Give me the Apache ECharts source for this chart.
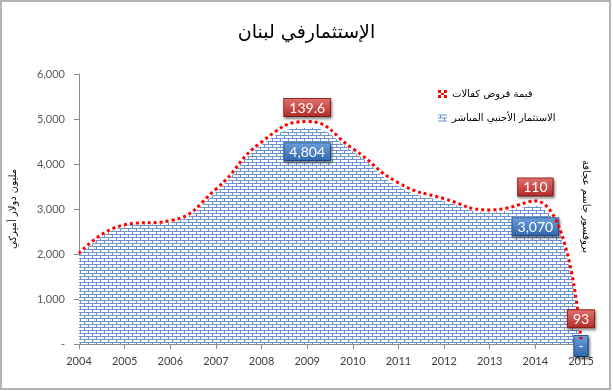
<!DOCTYPE html>
<html>
<head>
<meta charset="utf-8">
<script src="https://cdn.jsdelivr.net/npm/echarts@6/dist/echarts.min.js"></script>
<style>
html,body{margin:0;padding:0;background:#fff;}
#wrap{position:relative;width:613px;height:391px;}
#chart{position:absolute;left:0;top:0;width:613px;height:391px;}
#frame{position:absolute;left:0;top:0;width:611px;height:390px;box-sizing:border-box;border:2px solid #b4b4b4;pointer-events:none;}
</style>
</head>
<body>
<div id="wrap"><div id="chart"></div><div id="frame"></div></div>
<script>
const titleText = 'الإستثمارفي لبنان';
const yAxisName = 'مليون دولار أميركي';
const creditText = 'بروفسور جاسم عجاقة';
const seriesNames = ['الاستثمار الأجنبي المباشر', 'قيمة قروض كفالات'];
const years = ['2004','2005','2006','2007','2008','2009','2010','2011','2012','2013','2014','2015'];
const fdi = [1950, 2610, 2700, 3380, 4420, 4804, 4280, 3500, 3170, 2930, 3070, 0];
const loans = [60, 40, 40, 60, 70, 139.6, 60, 80, 60, 50, 110, 93];
const labeledIdx = [5, 10, 11];
const yTicks = [0, 1000, 2000, 3000, 4000, 5000, 6000];

function brick(){
  const c = document.createElement('canvas'); c.width = 8; c.height = 6;
  const g = c.getContext('2d');
  g.fillStyle = '#ffffff'; g.fillRect(0,0,8,6);
  g.fillStyle = '#6a93d0';
  g.fillRect(0,0,8,1); g.fillRect(0,3,8,1);
  g.fillRect(0,0,1,3); g.fillRect(4,3,1,3);
  return c;
}
const pattern = {image: brick(), repeat: 'repeat'};

function fmt(v){ return v === 0 ? '-' : Number(v).toLocaleString('en-US'); }

const baseLabel = {
  show: true, color: '#fff', fontSize: 14, fontFamily: 'Lato, sans-serif',
  padding: [2, 5, 1, 5], borderWidth: 1,
  shadowBlur: 3, shadowColor: 'rgba(0,0,0,0.45)', shadowOffsetX: 1, shadowOffsetY: 2
};
const redLabel = Object.assign({}, baseLabel, {
  backgroundColor: new echarts.graphic.LinearGradient(0,0,0,1,[{offset:0,color:'#e37371'},{offset:1,color:'#b22a26'}]),
  borderColor: '#9b2623'
});
const blueLabel = Object.assign({}, baseLabel, {
  backgroundColor: new echarts.graphic.LinearGradient(0,0,0,1,[{offset:0,color:'#6c9fdc'},{offset:1,color:'#2f66ae'}]),
  borderColor: '#2a5a9a'
});

const fdiData = fdi.map((v, i) => {
  if (!labeledIdx.includes(i)) return v;
  const pos = i === 11 ? 'inside' : 'bottom';
  const dist = i === 5 ? 15 : 12;
  const lab = Object.assign({}, blueLabel, {position: pos, distance: dist, formatter: p => fmt(fdi[p.dataIndex])});
  if (i === 11) { lab.padding = [3, 4, 3, 4]; lab.offset = [0, 2]; }
  return {value: v, label: lab};
});
const loanData = loans.map((v, i) => {
  if (!labeledIdx.includes(i)) return v;
  const dist = i === 11 ? 12 : 5;
  return {value: v, label: Object.assign({}, redLabel, {position: 'top', distance: dist, formatter: p => String(loans[p.dataIndex])})};
});

const chart = echarts.init(document.getElementById('chart'), null, {renderer: 'canvas'});
chart.setOption({
  backgroundColor: 'transparent',
  animation: false,
  title: {
    text: titleText, left: 'center', top: 19,
    textStyle: {fontFamily: 'DejaVu Sans', fontSize: 19, fontWeight: 'normal', color: '#000'}
  },
  legend: {
    orient: 'vertical', left: 433, top: 84, itemGap: 14, itemWidth: 9, itemHeight: 8,
    textStyle: {fontFamily: 'DejaVu Sans', fontSize: 10, color: '#000'},
    data: [
      {name: seriesNames[1], icon: 'path://M0,0h3v3h-3z M6,0h3v3h-3z M0,5h3v3h-3z M6,5h3v3h-3z M3,3h3v2h-3z', itemStyle: {color: '#ff0000', opacity: 1}},
      {name: seriesNames[0], icon: 'path://M0,0h9v1h-9z M0,3h9v1h-9z M0,6h9v1h-9z M2,1h1v2h-1z M6,4h1v2h-1z', itemStyle: {color: '#6a93d0', opacity: 1}}
    ]
  },
  grid: {left: 72, right: 32, top: 74, bottom: 47},
  xAxis: {
    type: 'category', data: years, boundaryGap: false,
    axisLine: {lineStyle: {color: '#8c8c8c'}},
    axisTick: {show: true, length: 5, lineStyle: {color: '#8c8c8c'}},
    axisLabel: {color: '#404040', fontSize: 11, fontFamily: 'Lato, sans-serif', margin: 12}
  },
  yAxis: {
    type: 'value', min: 0, max: 6000, interval: 1000,
    name: yAxisName, nameLocation: 'middle', nameGap: 61, nameRotate: 90,
    nameTextStyle: {fontFamily: 'DejaVu Sans', fontSize: 10, color: '#000'},
    axisLine: {show: true, lineStyle: {color: '#8c8c8c'}},
    axisTick: {show: true, length: 5, lineStyle: {color: '#8c8c8c'}},
    splitLine: {show: false},
    axisLabel: {color: '#595959', fontSize: 11, fontFamily: 'Lato, sans-serif', margin: 14,
      formatter: v => yTicks.includes(v) ? fmt(v) : ''}
  },
  graphic: [{
    type: 'text', left: 581, top: 160, rotation: -Math.PI/2, originX: 0, originY: 0,
    style: {text: creditText, fontFamily: 'DejaVu Sans', fontSize: 10, fill: '#000'}
  }],
  series: [
    {
      name: seriesNames[0], type: 'line', stack: 'total', smooth: 0.5,
      data: fdiData, symbol: 'circle', symbolSize: 1, showSymbol: true,
      itemStyle: {color: 'rgba(106,147,208,0)'},
      lineStyle: {width: 0, color: '#6a93d0'},
      areaStyle: {color: pattern, opacity: 1},
      z: 2
    },
    {
      name: seriesNames[1], type: 'line', stack: 'total', smooth: 0.5,
      data: loanData, symbol: 'circle', symbolSize: 1, showSymbol: true,
      itemStyle: {color: 'rgba(255,0,0,0)'},
      lineStyle: {width: 3, color: '#ff0000', type: [3, 3]},
      z: 3
    }
  ]
});
</script>
</body>
</html>
